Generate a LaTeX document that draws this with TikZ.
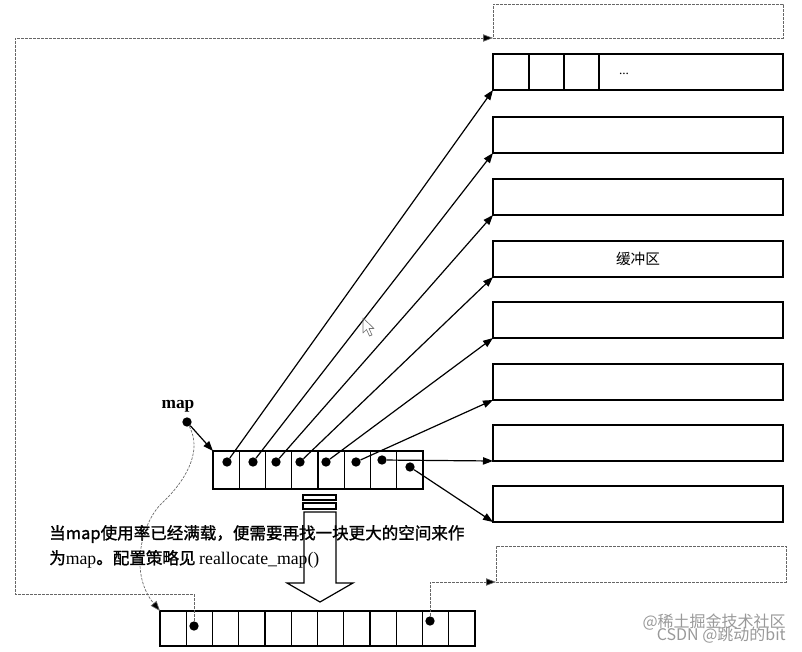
\documentclass[tikz,border=0pt]{standalone}
\usepackage{fontspec}
\setmainfont{Liberation Serif}
\newfontfamily\cjk{Noto Sans CJK SC}
\newfontfamily\cjkb[FakeBold=1.3]{Noto Sans CJK SC}
\usetikzlibrary{arrows.meta,calc}
\tikzset{
  buf/.style={draw, line width=1pt, minimum width=217.5pt, minimum height=27pt, anchor=north west, inner sep=0pt, outer sep=0pt},
  newbuf/.style={buf, draw=black!60, line width=0.5pt, dash pattern=on 2pt off 1pt},
  cell/.style={draw, line width=1pt, minimum width=19.69pt, minimum height=28.5pt, inner sep=0pt, outer sep=0pt, anchor=north west},
  ncell/.style={cell, minimum height=26.25pt},
  dot/.style={circle, fill=black, inner sep=0pt, minimum size=7pt},
  ptr/.style={line width=0.9pt, -{Triangle[length=7.5pt,width=5.5pt]}},
  dptr/.style={draw=black!60, line width=0.5pt, dash pattern=on 2pt off 1pt, -{Triangle[length=7.5pt,width=5.5pt,fill=black]}},
  txt/.style={font=\cjkb\fontsize{12.4}{16}\selectfont, anchor=west, inner sep=0pt},
  wm/.style={text=black!40, font=\cjk\fontsize{12}{12}\selectfont, anchor=east, inner sep=0pt}
}
\begin{document}
\begin{tikzpicture}[x=0.75pt, y=-0.75pt]
\useasboundingbox (0,0) rectangle (802,652);

% buffers on the right
\node[newbuf, minimum height=25.5pt] (nb0) at (493,4) {};
\node[buf] (b1) at (493,54) {};
\node[buf] (b2) at (493,117) {};
\node[buf] (b3) at (493,179) {};
\node[buf, font=\cjk\fontsize{11}{11}\selectfont] (b4) at (493,241) {缓冲区};
\node[buf] (b5) at (493,302) {};
\node[buf] (b6) at (493,364) {};
\node[buf] (b7) at (493,425) {};
\node[buf] (b8) at (493,486) {};
\node[newbuf] (nbB) at (496,546) {};

% cells inside first buffer
\foreach \dx in {36,71,106}
  \draw[line width=1pt] ($(b1.north west)+(\dx,0)$) -- ($(b1.south west)+(\dx,0)$);
\node[font=\fontsize{10}{10}\selectfont] (ell) at (624,74) {...};

% map array
\foreach \i in {1,...,8}
  \node[cell] (m\i) at ({213+26.25*(\i-1)},451) {};
\node[dot] (d1) at (227,462) {};
\node[dot] (d2) at (253,462) {};
\node[dot] (d3) at (276,462) {};
\node[dot] (d4) at (300,462) {};
\node[dot] (d5) at (326,462) {};
\node[dot] (d6) at (356,462) {};
\node[dot] (d7) at (382,460) {};
\node[dot] (d8) at (410,467) {};
\draw[ptr] (d1) -- (b1.south west);
\draw[ptr] (d2) -- (b2.south west);
\draw[ptr] (d3) -- (b3.south west);
\draw[ptr] (d4) -- (b4.south west);
\draw[ptr] (d5) -- (b5.south west);
\draw[ptr] (d6) -- (b6.south west);
\draw[ptr] (d7) -- (b7.south west);
\draw[ptr] (d8) -- (b8.south west);

% map pointer
\node[font=\bfseries\fontsize{13}{13}\selectfont, inner sep=0pt] (maplbl) at (178,406) {map};
\node[dot] (mapdot) at (187,422) {};
\draw[ptr] (mapdot) -- (m1.north west);

% new map array
\foreach \i in {1,...,12}
  \node[ncell] (n\i) at ({160+26.25*(\i-1)},611) {};
\node[dot] (da) at (194,626) {};
\node[dot] (db) at (430,621) {};

% dashed connectors
\draw[dptr] (mapdot) .. controls (203,452) and (185,482) .. (160,505)
            .. controls (140,527) and (130,575) .. (n1.north west);
\coordinate (c1) at (15,594);
\draw[dptr] (da) |- (c1) -- (c1 |- nb0.south west) -- (nb0.south west);
\draw[dptr] (db) |- (nbB.south west);

% block arrow
\draw[line width=0.9pt] (303,495) rectangle (336,500);
\draw[line width=0.9pt] (303,503) rectangle (336,509);
\draw[line width=0.9pt] (304,512) -- (336,512) -- (336,583) -- (353,583) -- (320,602)
  -- (287,583) -- (304,583) -- cycle;

% text
\node[txt] (t1) at (49,534) {当map使用率已经满载，便需要再找一块更大的空间来作};
\node[txt] (t2) at (49,559) {为{\rmfamily\fontsize{13.3}{16}\selectfont map}。配置策略见 {\rmfamily\fontsize{13.3}{16}\selectfont reallocate\_map()}};

% cursor artefact
\draw[black!55, line width=0.5pt, line join=round] (363,318) -- (363,333) -- (366.5,329.5) -- (369.5,336) -- (372,335) -- (369,328.5) -- (374,328.5) -- cycle;

% watermark
\node[wm] (wm1) at (786,622) {@稀土掘金技术社区};
\node[wm] (wm2) at (786,635) {CSDN @跳动的bit};
\end{tikzpicture}
\end{document}
